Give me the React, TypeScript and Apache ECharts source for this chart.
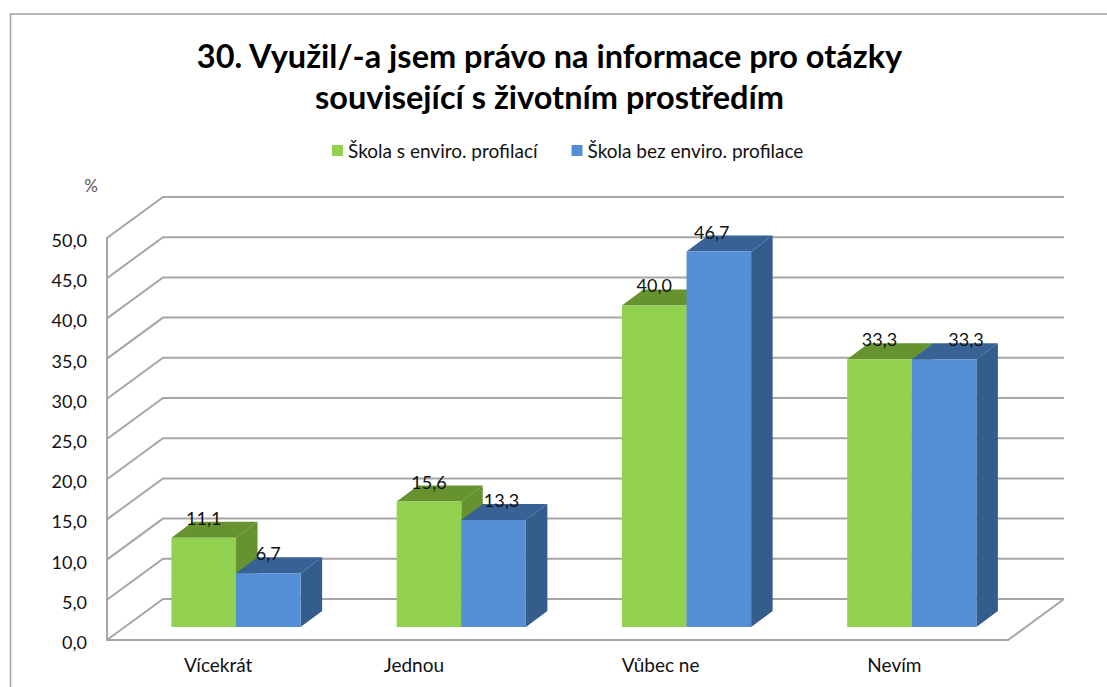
import React, { useEffect, useRef } from "react";
import * as echarts from "echarts";

const titleLines = ["30. Využil/-a jsem právo na informace pro otázky", "související s životním prostředím"];
const categories = ["Vícekrát", "Jednou", "Vůbec ne", "Nevím"];
const seriesNames = ["Škola s enviro. profilací", "Škola bez enviro. profilace"];
const withProfile = [11.1, 15.6, 40.0, 33.3];
const withoutProfile = [6.7, 13.3, 46.7, 33.3];
const yTicks = [0, 5, 10, 15, 20, 25, 30, 35, 40, 45, 50];

// styling / layout constants
const WALL_DX = 56, WALL_DY = -41;
const BAR_DX = 21.5, BAR_DY = -16;
const BAR_LIFT = -13, BAR_SHIFT = 16.4, BAR_W = 64.6;
const wallColor = "#A6A6A6";
const textFont = "Lato";
const palette = [
  { front: "#92D050", top: "#66922F", side: "#66922F" },
  { front: "#558ED5", top: "#386296", side: "#345C8C" },
];
// manual placement of the labels in the source chart
const labelNudge = [
  [[0, 0], [0, 0]],
  [[0, 0], [8, 0]],
  [[0, 0], [-7, 0]],
  [[0, 0], [22, 0]],
];
const catLabelPadding = [3, 62, 19, 2];
const fmt = (v: number) => v.toFixed(1).replace(".", ",");

function barRenderer(serieIdx: number) {
  return (params: any, api: any) => {
    const c = api.value(0), v = api.value(1);
    const center = api.coord([c, 0])[0];
    const base = api.coord([c, 0])[1] + BAR_LIFT;
    const top = api.coord([c, v])[1] + BAR_LIFT;
    const x0 = center + BAR_SHIFT + (serieIdx === 0 ? -BAR_W : 0);
    const x1 = x0 + BAR_W;
    const col = palette[serieIdx];
    const nudge = labelNudge[c][serieIdx];
    return {
      type: "group",
      children: [
        { type: "polygon", shape: { points: [[x1, top], [x1 + BAR_DX, top + BAR_DY], [x1 + BAR_DX, base + BAR_DY], [x1, base]] }, style: { fill: col.side } },
        { type: "polygon", shape: { points: [[x0, top], [x0 + BAR_DX, top + BAR_DY], [x1 + BAR_DX, top + BAR_DY], [x1, top]] }, style: { fill: col.top } },
        { type: "rect", shape: { x: x0, y: top, width: x1 - x0, height: base - top }, style: { fill: col.front } },
        {
          type: "text",
          x: (x0 + x1) / 2 + nudge[0],
          y: top - 20 + nudge[1],
          style: { text: fmt(v), fill: "#111", font: `18px ${textFont}`, align: "center", verticalAlign: "middle" },
          z2: 50,
        },
      ],
    };
  };
}

function wallRenderer(params: any, api: any) {
  const v = api.value(0);
  const cs = params.coordSys;
  const p = api.coord([0, v]);
  const left = cs.x;
  const right = cs.x + cs.width + WALL_DX;
  const children: any[] = [
    {
      type: "polyline",
      shape: { points: [[left, p[1]], [left + WALL_DX, p[1] + WALL_DY], [right, p[1] + WALL_DY]] },
      style: { stroke: wallColor, lineWidth: 2, fill: "none" },
    },
  ];
  if (v === 0) {
    children.push({
      type: "line",
      shape: { x1: right, y1: p[1] + WALL_DY, x2: right - WALL_DX, y2: p[1] },
      style: { stroke: wallColor, lineWidth: 2 },
    });
  }
  return { type: "group", children };
}

export default function App() {
  const ref = useRef<HTMLDivElement>(null);
  useEffect(() => {
    document.body.style.margin = "0";
    document.body.style.overflow = "hidden";
    const chart = echarts.init(ref.current!, null, { renderer: "svg" });
    const rich: any = {};
    catLabelPadding.forEach((p, i) => {
      rich["c" + i] = { padding: [0, p, 0, 0], fontFamily: textFont, fontSize: 19, color: "#111" };
    });
    chart.setOption({
      animation: false,
      backgroundColor: "#fff",
      title: {
        text: titleLines.join("\n"),
        left: 544.5,
        top: 29.5,
        textAlign: "center",
        textStyle: { fontFamily: "Lato", fontWeight: "bold", fontSize: 32.5, lineHeight: 41, color: "#000" },
      },
      legend: {
        data: seriesNames,
        top: 141,
        left: 332,
        padding: 0,
        icon: "rect",
        itemWidth: 11,
        itemHeight: 11,
        itemGap: 34,
        textStyle: { fontFamily: textFont, fontSize: 19, color: "#111" },
      },
      grid: { left: 107, top: 238, width: 901, height: 402 },
      xAxis: {
        type: "category",
        data: categories,
        axisTick: { show: false },
        axisLine: { show: true, lineStyle: { color: wallColor, width: 2 } },
        axisLabel: {
          margin: 15,
          formatter: (val: string) => `{c${categories.indexOf(val)}|${val}}`,
          rich,
        },
      },
      yAxis: {
        type: "value",
        min: 0,
        max: 50,
        interval: 5,
        name: "%",
        nameLocation: "end",
        nameGap: 44,
        nameTextStyle: { fontFamily: textFont, fontSize: 17, color: "#595959", align: "right", padding: [0, 9, 0, 0] },
        axisTick: { show: false },
        splitLine: { show: false },
        axisLine: { show: true, lineStyle: { color: wallColor, width: 2 } },
        axisLabel: {
          margin: 20,
          formatter: (v: number) => `{t|${fmt(v)}}`,
          rich: { t: { padding: [4, 0, 0, 0], fontFamily: textFont, fontSize: 18, color: "#111" } },
        },
      },
      series: [
        {
          type: "custom",
          name: "walls",
          z: 1,
          clip: false,
          silent: true,
          data: yTicks.map((v) => [v]),
          encode: { y: 0 },
          renderItem: wallRenderer,
        },
        {
          type: "custom",
          name: seriesNames[0],
          z: 3,
          clip: false,
          itemStyle: { color: palette[0].front },
          data: withProfile.map((v, i) => [i, v]),
          encode: { x: 0, y: 1 },
          renderItem: barRenderer(0),
        },
        {
          type: "custom",
          name: seriesNames[1],
          z: 4,
          clip: false,
          itemStyle: { color: palette[1].front },
          data: withoutProfile.map((v, i) => [i, v]),
          encode: { x: 0, y: 1 },
          renderItem: barRenderer(1),
        },
      ],
      graphic: [
        { type: "line", silent: true, shape: { x1: 10.5, y1: 14, x2: 10.5, y2: 687 }, style: { stroke: "#A0A0A0", lineWidth: 1.5 } },
        { type: "line", silent: true, shape: { x1: 10, y1: 14, x2: 1107, y2: 14 }, style: { stroke: "#A0A0A0", lineWidth: 1.5 } },
      ],
    });
    return () => chart.dispose();
  }, []);
  return <div ref={ref} style={{ position: "absolute", left: 0, top: 0, width: 1107, height: 687 }} />;
}
